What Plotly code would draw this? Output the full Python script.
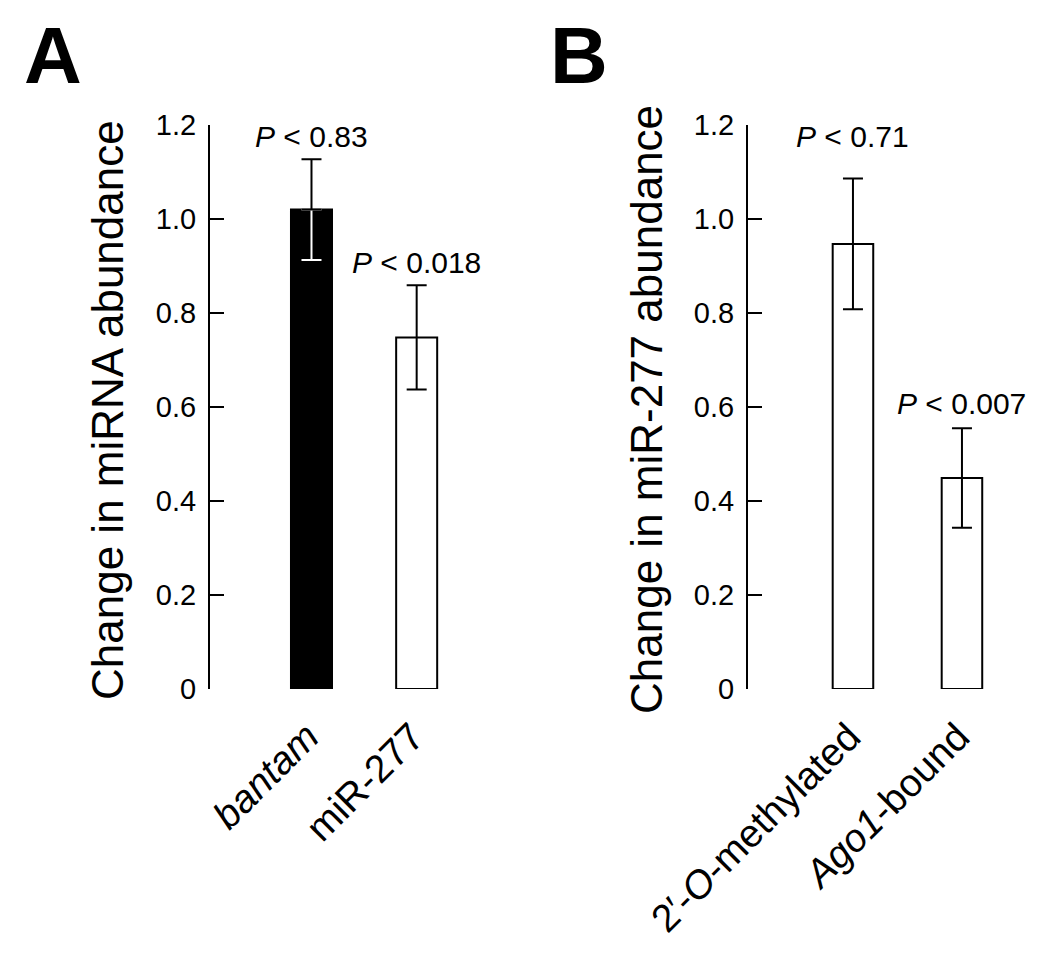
import plotly.graph_objects as go

# panel A
labels_a = ["<i>bantam</i>", "miR-277"]
values_a = [1.02, 0.748]
err_a = [0.107, 0.111]
pvals_a = ["<i>P</i> < 0.83", "<i>P</i> < 0.018"]
colors_a = ["black", "white"]

# panel B
labels_b = ["2\u2032-<i>O</i>-methylated", "<i>Ago1</i>-bound"]
values_b = [0.947, 0.449]
err_b = [0.139, 0.106]
pvals_b = ["<i>P</i> < 0.71", "<i>P</i> < 0.007"]
colors_b = ["white", "white"]

ytick_vals = [0, 0.2, 0.4, 0.6, 0.8, 1.0, 1.2]
ytick_text = ["0", "0.2", "0.4", "0.6", "0.8", "1.0", "1.2"]

FONT = "Liberation Sans, Arial, Helvetica, sans-serif"
W, H = 1042, 954  # page has an 8px body margin
pos = [0, 1]


def px(x):
    return (x - 8) / W


def py(y):
    return 1 - (y - 8) / H


fig = go.Figure()

# bars
fig.add_trace(go.Bar(x=pos, y=values_a, width=0.39, marker=dict(color=colors_a, line=dict(color="black", width=2)),
                     xaxis="x", yaxis="y"))
fig.add_trace(go.Bar(x=pos, y=values_b, width=0.372, marker=dict(color=colors_b, line=dict(color="black", width=2)),
                     xaxis="x2", yaxis="y2"))

# error bars: lower half drawn white inside the black bar
low_a = [e if c == "white" else 0 for e, c in zip(err_a, colors_a)]
fig.add_trace(go.Scatter(
    x=[p for p, c in zip(pos, colors_a) if c == "black"],
    y=[v for v, c in zip(values_a, colors_a) if c == "black"],
    mode="markers", marker=dict(size=1, color="rgba(0,0,0,0)"),
    error_y=dict(type="data", symmetric=False,
                 array=[0 for c in colors_a if c == "black"],
                 arrayminus=[e for e, c in zip(err_a, colors_a) if c == "black"],
                 color="white", thickness=2, width=10),
    xaxis="x", yaxis="y"))
fig.add_trace(go.Scatter(
    x=pos, y=values_a, mode="markers", marker=dict(size=1, color="rgba(0,0,0,0)"),
    error_y=dict(type="data", symmetric=False, array=err_a, arrayminus=low_a,
                 color="black", thickness=2, width=10),
    xaxis="x", yaxis="y"))
fig.add_trace(go.Scatter(
    x=pos, y=values_b, mode="markers", marker=dict(size=1, color="rgba(0,0,0,0)"),
    error_y=dict(type="data", array=err_b, color="black", thickness=2, width=10),
    xaxis="x2", yaxis="y2"))

yaxis_style = dict(
    range=[0, 1.2], tickvals=ytick_vals, ticktext=ytick_text,
    showline=True, linecolor="black", linewidth=2,
    ticks="inside", ticklen=14, tickwidth=2, tickcolor="black",
    ticklabelstandoff=6, automargin=False,
    showgrid=False, zeroline=False,
    tickfont=dict(family=FONT, size=29, color="black"),
)
xaxis_style = dict(
    tickvals=pos, tickangle=-45, showline=False, ticks="", showgrid=False, zeroline=False,
    automargin=False, ticklabelstandoff=16, ticklabelshift=-4,
    tickfont=dict(family=FONT, size=39, color="black"),
)

fig.update_layout(
    width=W, height=H,
    margin=dict(l=0, r=0, t=0, b=0, autoexpand=False),
    plot_bgcolor="white", paper_bgcolor="white",
    showlegend=False,
    font=dict(family=FONT, color="black"),
    xaxis=dict(xaxis_style, domain=[px(210), px(462)], range=[-0.965, 1.431], ticktext=labels_a, anchor="y"),
    yaxis=dict(yaxis_style, domain=[py(689), py(125)], anchor="x"),
    xaxis2=dict(xaxis_style, domain=[px(748), px(1040)], range=[-0.963, 1.716], ticktext=labels_b, anchor="y2"),
    yaxis2=dict(yaxis_style, domain=[py(689), py(125)], anchor="x2"),
)

annotations = []
shifts_a = [4, 4]
shifts_b = [24, 6]
for xr, yr, vals, errs, texts, shifts in [("x", "y", values_a, err_a, pvals_a, shifts_a),
                                          ("x2", "y2", values_b, err_b, pvals_b, shifts_b)]:
    for p, v, e, t, s in zip(pos, vals, errs, texts, shifts):
        annotations.append(dict(x=p, y=v + e, xref=xr, yref=yr, text=t, showarrow=False,
                                xanchor="center", yanchor="bottom", yshift=s,
                                font=dict(family=FONT, size=30, color="black")))

# y-axis titles
annotations.append(dict(x=px(107), y=py(410), xref="paper", yref="paper", text="Change in miRNA abundance",
                        textangle=-90, showarrow=False, xanchor="center", yanchor="middle",
                        font=dict(family=FONT, size=44, color="black")))
annotations.append(dict(x=px(646), y=py(410), xref="paper", yref="paper", text="Change in miR-277 abundance",
                        textangle=-90, showarrow=False, xanchor="center", yanchor="middle",
                        font=dict(family=FONT, size=44, color="black")))

# panel letters
for letter, xl in [("A", 22), ("B", 548)]:
    annotations.append(dict(x=px(xl), y=py(55), xref="paper", yref="paper", text="<b>" + letter + "</b>",
                            showarrow=False, xanchor="left", yanchor="middle",
                            font=dict(family=FONT, size=80, color="black")))

fig.update_layout(annotations=annotations)

fig.write_html("out.html")
